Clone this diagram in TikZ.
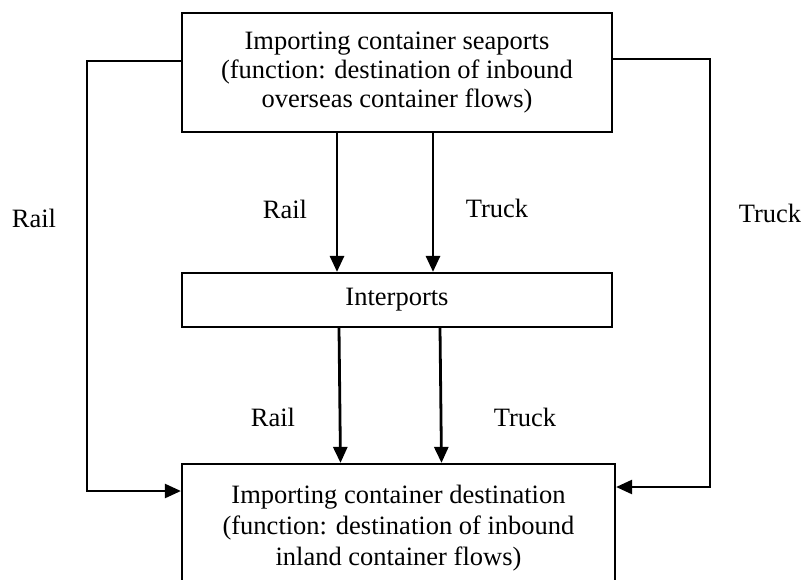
\documentclass[tikz,border=0pt]{standalone}
\usepackage{fontspec}
\setmainfont{Liberation Serif}
\usetikzlibrary{arrows.meta,calc}
\tikzset{%
  portbox/.style  = {shape=rectangle, draw, line width=2.2pt,%
                     align=center, inner sep=0pt},%
  flow/.style     = {line width=2.8pt, -{Triangle[width=14pt,length=16pt]}},%
  bypass/.style   = {flow, line width=2.4pt},%
  mode/.style     = {inner sep=0pt}%
}

\begin{document}
\begin{tikzpicture}[x=1pt,y=-1pt, every node/.style = {font=\fontsize{26.5}{29}\selectfont}]%
	\useasboundingbox (0,0) rectangle (805,579);
	% boxes
	\node [portbox, minimum width=430pt, minimum height=119pt] (seaports) at (397,72.5)%
		{Importing container seaports\\(function: destination of inbound\\overseas container flows)};%
	\node [portbox, minimum width=430pt, minimum height=54pt] (interports) at (397,300)%
		{Interports};%
	\node [portbox, minimum width=433pt, minimum height=128pt,%
		font=\fontsize{26.5}{31}\selectfont] (destination) at (398.5,528)%
		{Importing container destination\\(function: destination of inbound\\inland container flows)};%
	% bends of the direct links
	\coordinate (leftrail) at (87,300);%
	\coordinate (righttruck) at (710,300);%
	% links through the interports
	\draw [flow] ([xshift=-60pt]seaports.south) -- ([xshift=-60pt]interports.north);%
	\draw [flow] ([xshift=36pt]seaports.south) -- ([xshift=36pt]interports.north);%
	\draw [flow] ([xshift=-58pt]interports.south) -- ([xshift=-58pt]destination.north);%
	\draw [flow] ([xshift=43pt]interports.south) -- ([xshift=43pt]destination.north);%
	% direct links
	\draw [bypass] ([yshift=11.5pt]seaports.west) -| (leftrail) |- ([yshift=37pt]destination.west);%
	\draw [bypass] ([yshift=13.5pt]seaports.east) -| (righttruck) |- ([yshift=41pt]destination.east);%
	% labels
	\node [mode] (railouter) at (34,218) {Rail};%
	\node [mode] (railtop) at (285,209) {Rail};%
	\node [mode] (trucktop) at (497,208) {Truck};%
	\node [mode] (truckouter) at (770,213) {Truck};%
	\node [mode] (railbottom) at (273,417) {Rail};%
	\node [mode] (truckbottom) at (525,417) {Truck};%
\end{tikzpicture}
\end{document}
